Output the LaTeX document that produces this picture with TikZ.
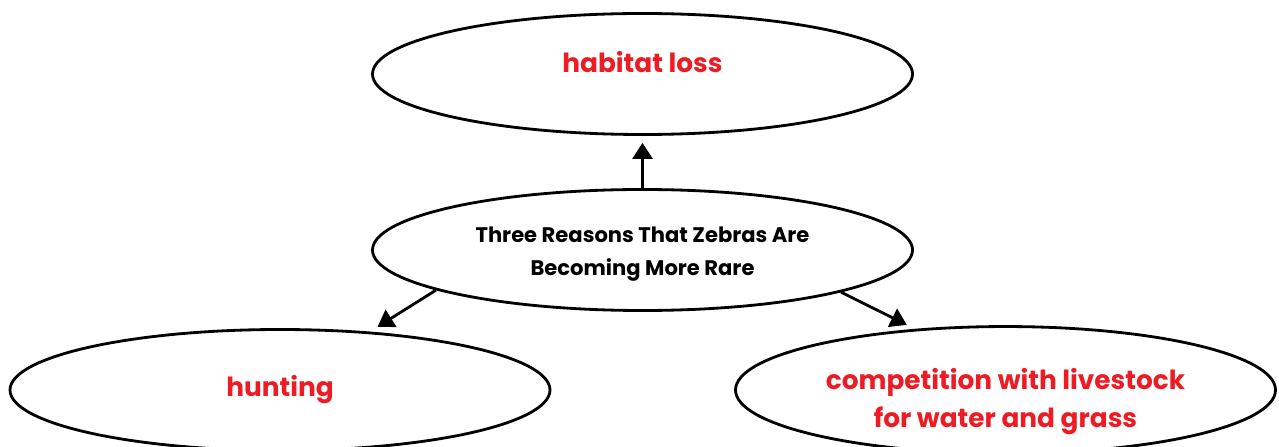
\documentclass[tikz,border=0pt]{standalone}
\usepackage{fontspec}
\setmainfont{Poppins}
\usetikzlibrary{arrows.meta,shapes.geometric}
\definecolor{reasonred}{RGB}{237,28,36}
\tikzstyle{oval}=[ellipse,draw=black,line width=1.6pt,minimum width=10.8cm,minimum height=2.42cm,inner sep=0pt,align=center]
\tikzstyle{reason}=[oval,text=reasonred,font=\fontsize{15}{21.5}\selectfont\bfseries]
\tikzstyle{link}=[-{Triangle[length=0.32cm,width=0.4cm]},line width=1.6pt]

\begin{document}
\begin{tikzpicture}
\useasboundingbox (0,0) rectangle (25.58,8.92);
\node[reason,text depth=0.5cm] (H) at (12.85,7.44) {habitat loss};
\node[oval,text height=1.15cm,font=\fontsize{12}{19}\selectfont\bfseries] (C) at (12.85,3.92) {Three Reasons That Zebras Are\\Becoming More Rare};
\node[reason] (L) at (5.6,1.12) {hunting};
\node[reason,text height=1.65cm] (R) at (20.11,1.12) {competition with livestock\\for water and grass};
\draw[link,shorten >=0.14cm](C.north)--(H.south);
\draw[link,shorten >=0.18cm](C.191)--(L.33);\draw[link,shorten >=0.18cm](C.348.5)--(R.146);
\end{tikzpicture}
\end{document}
